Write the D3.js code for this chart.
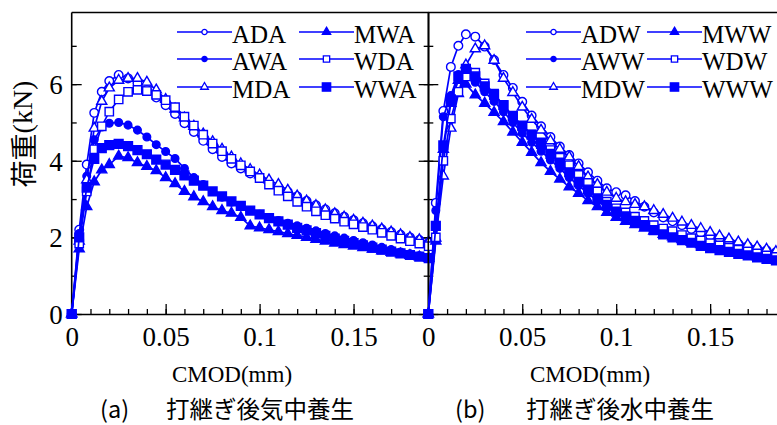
<!DOCTYPE html>
<html><head><meta charset="utf-8">
<script src="https://d3js.org/d3.v7.min.js"></script>
<style>
html,body{margin:0;padding:0;background:#fff;}
svg{display:block;}
.serif{font-family:"Liberation Serif","Times New Roman",Times,serif;}
.cjk{font-family:"Noto Sans CJK JP","Noto Sans",sans-serif;}
</style></head>
<body>
<svg id="chart" width="777" height="425"></svg>
<script>
// ---------------- DATA ----------------
const cmod = [0, 0.004, 0.008, 0.012, 0.016, 0.020, 0.025, 0.030, 0.035, 0.040,
  0.045, 0.050, 0.055, 0.060, 0.065, 0.070, 0.075, 0.080, 0.085, 0.090,
  0.095, 0.100, 0.105, 0.110, 0.115, 0.120, 0.125, 0.130, 0.135, 0.140,
  0.145, 0.150, 0.155, 0.160, 0.165, 0.170, 0.175, 0.180, 0.185, 0.190];

// (a) 打継ぎ後気中養生
const ADA = [0, 2.2, 3.9, 5.25, 5.8, 6.08, 6.24, 6.15, 6.02, 5.85, 5.65, 5.45, 5.22, 4.98, 4.75, 4.52, 4.3, 4.1, 3.93, 3.8,
  3.67, 3.55, 3.43, 3.31, 3.19, 3.07, 2.95, 2.84, 2.73, 2.63, 2.54, 2.45, 2.37, 2.29, 2.21, 2.14, 2.07, 2.0, 1.93, 1.86];
const AWA = [0, 2.1, 3.6, 4.55, 4.88, 4.98, 5.0, 4.93, 4.8, 4.62, 4.42, 4.24, 4.06, 3.8, 3.56, 3.38, 3.2, 3.05, 2.92, 2.8,
  2.7, 2.6, 2.52, 2.44, 2.37, 2.3, 2.24, 2.17, 2.1, 2.04, 1.98, 1.92, 1.86, 1.8, 1.74, 1.68, 1.62, 1.57, 1.52, 1.47];
const MDA = [0, 1.9, 3.5, 4.85, 5.55, 5.9, 6.1, 6.15, 6.15, 6.05, 5.85, 5.6, 5.35, 5.12, 4.9, 4.7, 4.5, 4.3, 4.1, 3.92,
  3.77, 3.63, 3.5, 3.38, 3.23, 3.08, 2.95, 2.83, 2.72, 2.62, 2.53, 2.45, 2.37, 2.3, 2.22, 2.14, 2.07, 2.0, 1.94, 1.88];
const MWA = [0, 1.7, 2.8, 3.45, 3.76, 3.9, 4.12, 4.08, 3.95, 3.85, 3.74, 3.56, 3.4, 3.2, 3.06, 2.93, 2.8, 2.7, 2.63, 2.52,
  2.3, 2.25, 2.2, 2.15, 2.1, 2.05, 2.0, 1.95, 1.9, 1.85, 1.81, 1.77, 1.73, 1.69, 1.65, 1.61, 1.57, 1.53, 1.49, 1.45];
const WDA = [0, 1.84, 3.2, 4.3, 4.9, 5.28, 5.6, 5.8, 5.85, 5.82, 5.72, 5.58, 5.4, 5.15, 4.92, 4.68, 4.45, 4.25, 4.05, 3.88,
  3.72, 3.55, 3.38, 3.22, 3.07, 2.93, 2.8, 2.68, 2.58, 2.49, 2.41, 2.34, 2.27, 2.2, 2.12, 2.04, 1.97, 1.9, 1.84, 1.77];
const WWA = [0, 2.0, 3.3, 4.05, 4.33, 4.41, 4.44, 4.38, 4.28, 4.17, 4.03, 3.9, 3.76, 3.62, 3.48, 3.35, 3.2, 3.07, 2.94, 2.82,
  2.7, 2.6, 2.5, 2.42, 2.33, 2.25, 2.18, 2.11, 2.04, 1.97, 1.91, 1.85, 1.79, 1.73, 1.68, 1.63, 1.58, 1.54, 1.5, 1.46];

// (b) 打継ぎ後水中養生
const ADW = [0, 2.9, 5.3, 6.45, 7.0, 7.3, 7.24, 6.98, 6.63, 6.24, 5.9, 5.54, 5.18, 4.9, 4.62, 4.37, 4.15, 3.93, 3.7, 3.48,
  3.28, 3.18, 3.1, 2.95, 2.8, 2.65, 2.52, 2.42, 2.32, 2.22, 2.12, 2.04, 1.97, 1.9, 1.83, 1.77, 1.71, 1.66, 1.61, 1.57];
const AWW = [0, 2.7, 5.15, 5.7, 6.25, 6.28, 6.05, 5.8, 5.55, 5.28, 5.0, 4.72, 4.48, 4.25, 4.02, 3.8, 3.56, 3.35, 3.15, 2.95,
  2.78, 2.62, 2.5, 2.4, 2.3, 2.2, 2.12, 2.04, 1.97, 1.9, 1.83, 1.77, 1.71, 1.66, 1.61, 1.56, 1.51, 1.47, 1.43, 1.39];
const MDW = [0, 1.98, 3.6, 4.85, 5.75, 6.5, 6.92, 7.0, 6.62, 6.15, 5.78, 5.4, 5.08, 4.8, 4.52, 4.3, 4.1, 3.85, 3.58, 3.38,
  3.18, 3.02, 2.93, 2.86, 2.8, 2.7, 2.6, 2.5, 2.4, 2.31, 2.23, 2.13, 2.04, 1.96, 1.88, 1.81, 1.75, 1.69, 1.63, 1.58];
const MWW = [0, 1.9, 4.3, 5.5, 6.1, 6.0, 5.72, 5.5, 5.26, 5.02, 4.75, 4.48, 4.22, 3.95, 3.72, 3.52, 3.32, 3.15, 2.96, 2.8,
  2.65, 2.52, 2.42, 2.33, 2.24, 2.16, 2.08, 2.01, 1.94, 1.87, 1.81, 1.75, 1.69, 1.64, 1.59, 1.54, 1.5, 1.46, 1.42, 1.38];
const WDW = [0, 2.0, 4.0, 5.1, 5.8, 6.2, 6.3, 6.02, 5.75, 5.45, 5.15, 4.9, 4.68, 4.48, 4.28, 4.08, 3.88, 3.63, 3.42, 3.2,
  2.93, 2.76, 2.65, 2.54, 2.43, 2.32, 2.23, 2.16, 2.06, 1.98, 1.92, 1.85, 1.79, 1.73, 1.68, 1.63, 1.58, 1.53, 1.49, 1.45];
const WWW = [0, 2.3, 4.4, 5.6, 6.2, 6.4, 6.2, 5.94, 5.72, 5.45, 5.17, 4.92, 4.68, 4.44, 4.18, 3.95, 3.7, 3.45, 3.25, 3.02,
  2.85, 2.67, 2.55, 2.43, 2.32, 2.19, 2.08, 2.0, 1.93, 1.86, 1.78, 1.72, 1.67, 1.62, 1.57, 1.53, 1.48, 1.44, 1.4, 1.37];

const namesA = ["ADA", "AWA", "MDA", "MWA", "WDA", "WWA"];
const namesB = ["ADW", "AWW", "MDW", "MWW", "WDW", "WWW"];
const valuesA = [ADA, AWA, MDA, MWA, WDA, WWA];
const valuesB = [ADW, AWW, MDW, MWW, WDW, WWW];

const xTickValues = [0, 0.05, 0.1, 0.15];
const xTickLabels = ["0", "0.05", "0.1", "0.15"];
const yTickValues = [0, 2, 4, 6];
const yTickLabels = ["0", "2", "4", "6"];
const xLabel = "CMOD(mm)";
const yLabelJa = "荷重";
const yLabelUnit = "(kN)";
const captionA = ["(a)", "打継ぎ後気中養生"];
const captionB = ["(b)", "打継ぎ後水中養生"];

// ---------------- DRAW ----------------
const svg = d3.select("#chart");
const blue = "#0000ff";

// marker spec per series index (same order in both panels)
const markers = [
  {type: d3.symbolCircle,   fill: false, size: 58, lsize: 22},
  {type: d3.symbolCircle,   fill: true,  size: 46, lsize: 22},
  {type: d3.symbolTriangle, fill: false, size: 44, lsize: 26},
  {type: d3.symbolTriangle, fill: true,  size: 44, lsize: 30},
  {type: d3.symbolSquare,   fill: false, size: 70, lsize: 40},
  {type: d3.symbolSquare,   fill: true,  size: 78, lsize: 70}
];

const y = d3.scaleLinear().domain([0, 7.87]).range([314, 12.5]);

function panel(x0, names, values, legendX, opts) {
  const x = d3.scaleLinear().domain([0, 0.19]).range([x0, x0 + 357]);
  const g = svg.append("g");
  const x1 = x0 + 357;

  // frame
  g.append("line").attr("x1", x0).attr("x2", x1).attr("y1", y.range()[1]).attr("y2", y.range()[1])
    .attr("stroke", "#000").attr("stroke-width", 1.6);
  g.append("line").attr("x1", x0).attr("x2", x0).attr("y1", y.range()[0]).attr("y2", y.range()[1])
    .attr("stroke", "#000").attr("stroke-width", 1.6);
  if (opts.rightAxis) {
    g.append("line").attr("x1", x1).attr("x2", x1).attr("y1", y.range()[0]).attr("y2", y.range()[1])
      .attr("stroke", "#000").attr("stroke-width", 1.6);
  }

  // x axis (bottom), inward ticks
  const xMinor = d3.range(0, 0.1901, 0.01);
  const axB = g.append("g").attr("transform", `translate(0,${y(0)})`);
  axB.call(d3.axisBottom(x).tickValues(xMinor).tickSize(-5).tickFormat(""))
    .call(s => s.select(".domain").attr("stroke-width", 1.6));
  axB.append("g").call(d3.axisBottom(x).tickValues(xTickValues).tickSize(-10).tickFormat((d, i) => xTickLabels[i]))
    .call(s => s.select(".domain").remove())
    .call(s => s.attr("font-family", null).attr("font-size", null))
    .call(s => s.selectAll("text").attr("class", "serif").style("font-size", "27px").attr("fill", "#000")
      .attr("dy", null).attr("y", 31.5));
  axB.attr("font-family", null).attr("font-size", null);
  axB.selectAll(".tick line").attr("stroke-width", 1.3);

  // y axis (left) and right inward ticks
  const yMinor = d3.range(0, 7.87, 1);
  const axL = g.append("g").attr("transform", `translate(${x0},0)`);
  axL.call(d3.axisLeft(y).tickValues(yMinor).tickSize(-5).tickFormat(""))
    .call(s => s.select(".domain").remove());
  axL.append("g").call(d3.axisLeft(y).tickValues(yTickValues).tickSize(-10)
      .tickFormat((d, i) => opts.yLabels ? yTickLabels[i] : ""))
    .call(s => s.select(".domain").remove())
    .call(s => s.attr("font-family", null).attr("font-size", null))
    .call(s => s.selectAll("text").attr("class", "serif").style("font-size", "27px").attr("fill", "#000")
      .attr("x", -9).attr("dy", "0.35em"));
  axL.attr("font-family", null).attr("font-size", null);
  axL.selectAll(".tick line").attr("stroke-width", 1.3);

  if (opts.rightAxis) {
    const axR = g.append("g").attr("transform", `translate(${x1},0)`);
    axR.call(d3.axisRight(y).tickValues(yMinor).tickSize(-5).tickFormat(""))
      .call(s => s.select(".domain").remove());
    axR.append("g").call(d3.axisRight(y).tickValues(yTickValues).tickSize(-10).tickFormat(""))
      .call(s => s.select(".domain").remove());
    axR.selectAll(".tick line").attr("stroke-width", 1.3);
  }

  // series
  const line = d3.line().x((d, i) => x(cmod[i])).y(d => y(d));
  values.forEach((vals, k) => {
    const m = markers[k];
    g.append("path").datum(vals).attr("d", line).attr("fill", "none")
      .attr("stroke", blue).attr("stroke-width", 1.7);
    const sym = d3.symbol().type(m.type).size(m.size);
    g.selectAll(null).data(vals).join("path")
      .attr("transform", (d, i) => `translate(${x(cmod[i])},${y(d)})`)
      .attr("d", sym)
      .attr("fill", m.fill ? blue : "#fff")
      .attr("stroke", blue).attr("stroke-width", 1.4);
  });

  // legend
  const rows = [32, 59, 87];
  names.forEach((n, k) => {
    const col = k < 3 ? 0 : 1;
    const row = k % 3;
    const lx = legendX[col];
    const ly = rows[row];
    const m = markers[k];
    const lg = g.append("g");
    lg.append("line").attr("x1", lx).attr("x2", lx + 55).attr("y1", ly).attr("y2", ly)
      .attr("stroke", blue).attr("stroke-width", 1.5);
    lg.append("path").attr("transform", `translate(${lx + 27.5},${ly})`)
      .attr("d", d3.symbol().type(m.type).size(m.lsize))
      .attr("fill", m.fill ? blue : "#fff").attr("stroke", blue).attr("stroke-width", 1.3);
    lg.append("text").attr("x", lx + 55).attr("y", ly + 10.5).text(n)
      .attr("class", "serif").style("font-size", "25px").attr("fill", "#000");
  });

  // x label
  g.append("text").attr("x", opts.xLabelX).attr("y", 382).attr("text-anchor", "middle")
    .attr("class", "serif").style("font-size", "23px").attr("fill", "#000").text(xLabel);

  // caption
  const cap = g.append("text").attr("y", 418).attr("class", "cjk").style("font-size", "23.5px").attr("fill", "#000");
  cap.append("tspan").attr("x", opts.capX[0]).text(opts.caption[0]);
  cap.append("tspan").attr("x", opts.capX[1]).text(opts.caption[1]);
}

panel(71.7, namesA, valuesA, [177, 299],
  {yLabels: true, rightAxis: true, xLabelX: 232, capX: [100, 166], caption: captionA});
panel(428.3, namesB, valuesB, [526, 647],
  {yLabels: false, rightAxis: false, xLabelX: 590, capX: [455, 526], caption: captionB});

// y label
const yl = svg.append("text").attr("transform", "translate(22,134) rotate(-90)")
  .attr("text-anchor", "middle").attr("dominant-baseline", "central").attr("fill", "#000");
yl.append("tspan").attr("class", "cjk").style("font-size", "27px").text(yLabelJa);
yl.append("tspan").attr("class", "serif").style("font-size", "28px").text(yLabelUnit);
</script>
</body></html>
